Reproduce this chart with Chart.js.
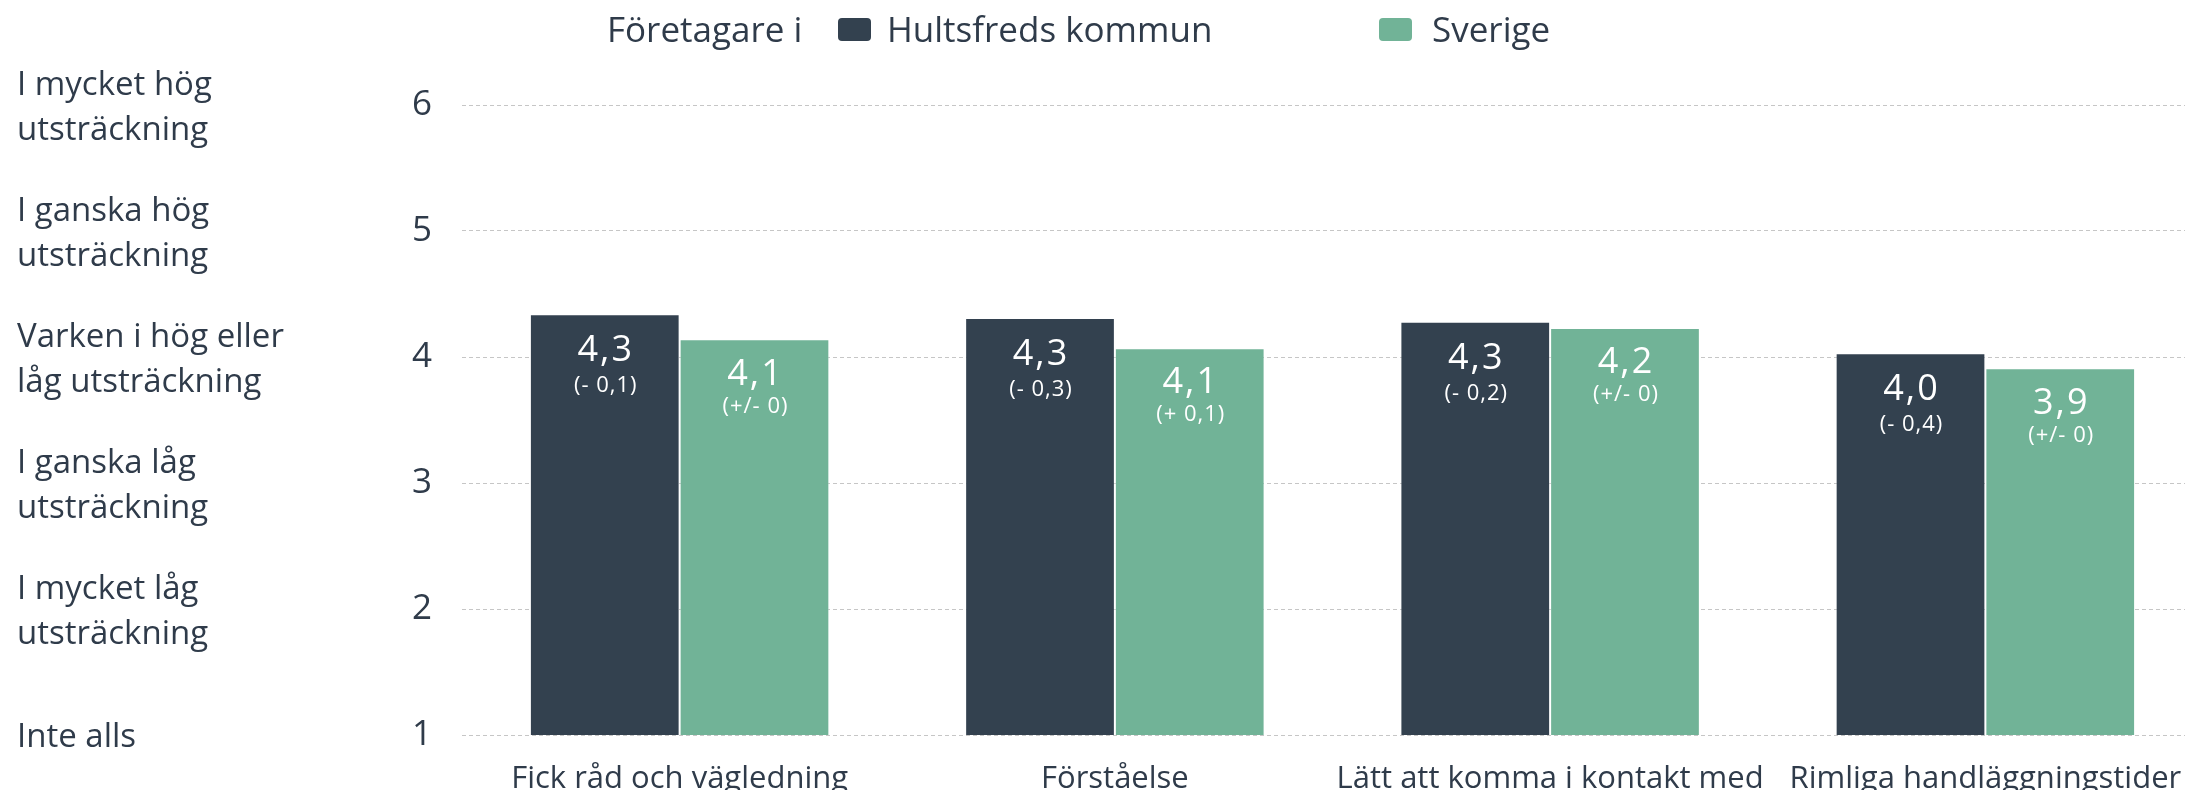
<!DOCTYPE html>
<html lang="sv">
<head>
<meta charset="utf-8">
<title>Företagare i Hultsfreds kommun</title>
<script src="https://cdn.jsdelivr.net/npm/chart.js@4.4.1/dist/chart.umd.min.js"></script>
<style>
    html, body { margin: 0; padding: 0; background: #fff; overflow: hidden; }
    #wrap { position: relative; width: 2220px; height: 850px; }
    .legend { position: absolute; top: 0; left: 0; height: 50px; font: 35px "Open Sans", sans-serif; line-height: 35px; color: #2f3b4a; white-space: nowrap; }
    .legend span { position: absolute; top: 11px; }
    .legend i { position: absolute; top: 18px; display: block; width: 33px; height: 23px; border-radius: 4px; }
</style>
</head>
<body>
<div id="wrap">
    <canvas id="chart" width="2220" height="850"></canvas>
    <div class="legend">
        <span style="left: 607px">Företagare i</span>
        <i id="box-kommun" style="left: 838px"></i>
        <span style="left: 887px">Hultsfreds kommun</span>
        <i id="box-sverige" style="left: 1379px"></i>
        <span style="left: 1432px">Sverige</span>
    </div>
</div>
<script>
    const categories = ['Fick råd och vägledning', 'Förståelse', 'Lätt att komma i kontakt med', 'Rimliga handläggningstider'];
    const kommunValues = [4.34, 4.31, 4.28, 4.03];
    const sverigeValues = [4.14, 4.07, 4.23, 3.91];
    const kommunChanges = ['(- 0,1)', '(- 0,3)', '(- 0,2)', '(- 0,4)'];
    const sverigeChanges = ['(+/- 0)', '(+ 0,1)', '(+/- 0)', '(+/- 0)'];
    const scaleLabels = [
        ['Inte alls'],
        ['I mycket låg', 'utsträckning'],
        ['I ganska låg', 'utsträckning'],
        ['Varken i hög eller', 'låg utsträckning'],
        ['I ganska hög', 'utsträckning'],
        ['I mycket hög', 'utsträckning'],
    ];

    const darkColor = '#33414f';
    const greenColor = '#71b397';
    const textColor = '#2f3b4a';
    const gridColor = '#c6c6c6';
    const fontFamily = '"Open Sans", sans-serif';

    document.getElementById('box-kommun').style.background = darkColor;
    document.getElementById('box-sverige').style.background = greenColor;

    // value + change written inside the top of every bar
    const barLabels = {
        id: 'barLabels',
        afterDatasetsDraw(chart) {
            const ctx = chart.ctx;
            chart.data.datasets.forEach((ds, i) => {
                const meta = chart.getDatasetMeta(i);
                const [valueGap, changeGap] = ds.labelGaps;
                meta.data.forEach((bar, j) => {
                    ctx.save();
                    ctx.fillStyle = '#ffffff';
                    ctx.textAlign = 'center';
                    ctx.textBaseline = 'middle';
                    ctx.font = '500 36px ' + fontFamily;
                    ctx.letterSpacing = '2px';
                    ctx.fillText(ds.data[j].toFixed(1).replace('.', ','), bar.x + 1, bar.y + valueGap);
                    ctx.font = '500 22px ' + fontFamily;
                    ctx.letterSpacing = '1px';
                    ctx.fillText(ds.changes[j], bar.x + 1, bar.y + changeGap);
                    ctx.restore();
                });
            });
        }
    };

    new Chart(document.getElementById('chart'), {
        type: 'bar',
        data: {
            labels: categories,
            datasets: [
                {
                    label: 'Hultsfreds kommun',
                    data: kommunValues,
                    changes: kommunChanges,
                    labelGaps: [37, 72],
                    backgroundColor: darkColor,
                    borderColor: 'rgba(255,255,255,0.35)',
                    borderWidth: {top: 1, left: 1, right: 1, bottom: 0},
                    barPercentage: 1,
                    categoryPercentage: 0.688,
                },
                {
                    label: 'Sverige',
                    data: sverigeValues,
                    changes: sverigeChanges,
                    labelGaps: [35, 67],
                    backgroundColor: greenColor,
                    borderColor: 'rgba(255,255,255,0.35)',
                    borderWidth: {top: 1, left: 1, right: 1, bottom: 0},
                    barPercentage: 1,
                    categoryPercentage: 0.688,
                },
            ],
        },
        options: {
            responsive: false,
            animation: false,
            layout: {
                padding: {top: 105, left: 17, right: 17, bottom: 0},
            },
            scales: {
                x: {
                    grid: {display: false},
                    border: {display: false},
                    ticks: {
                        color: textColor,
                        padding: 18,
                        maxRotation: 0,
                        font: {family: fontFamily, size: 31},
                    },
                    afterFit: (scale) => { scale.height = 115; },
                },
                y: {
                    position: 'left',
                    weight: 0,
                    min: 1,
                    max: 6,
                    border: {display: false, dash: [4, 3]},
                    grid: {color: gridColor, drawTicks: false, lineWidth: 1},
                    ticks: {
                        stepSize: 1,
                        padding: 30,
                        color: textColor,
                        font: {family: fontFamily, size: 35},
                    },
                    afterFit: (scale) => { scale.width = 55; },
                },
                yText: {
                    type: 'linear',
                    position: 'left',
                    weight: 1,
                    min: 1,
                    max: 6,
                    border: {display: false},
                    grid: {display: false, drawTicks: false},
                    ticks: {
                        stepSize: 1,
                        padding: 0,
                        crossAlign: 'far',
                        labelOffset: 3,
                        color: textColor,
                        font: {family: fontFamily, size: 33, lineHeight: 1.35},
                        callback: (value) => scaleLabels[value - 1],
                    },
                    afterFit: (scale) => { scale.width = 390; },
                },
            },
            plugins: {
                legend: {display: false},
                tooltip: {enabled: false},
            },
        },
        plugins: [barLabels],
    });
</script>
</body>
</html>
